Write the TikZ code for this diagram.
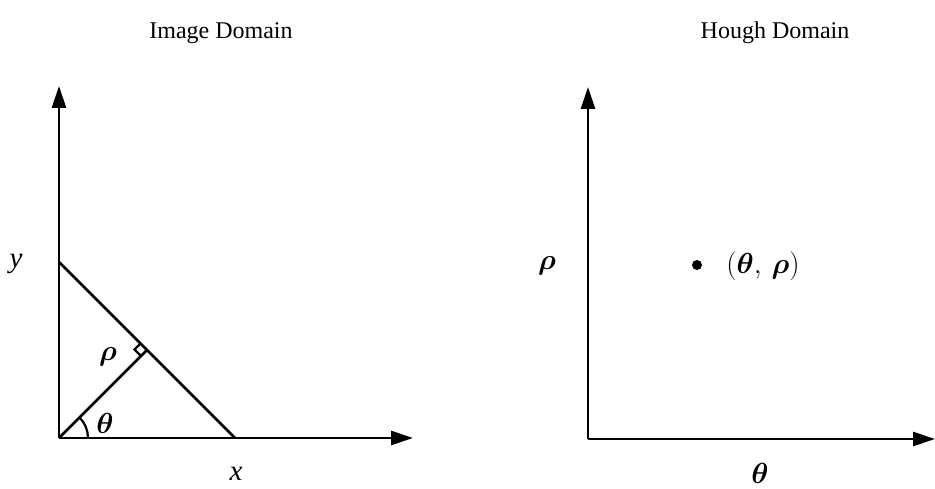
\RequirePackage{fix-cm}
\documentclass[tikz,border=0pt]{standalone}
\usepackage{bm}
\usepackage{fontspec}
\setmainfont{Liberation Serif}
\usetikzlibrary{arrows.meta,calc}
\begin{document}
\begin{tikzpicture}[x=1pt,y=-1pt,
  axis/.style={line width=2.8pt,-{Triangle[length=22pt,width=14pt]}},
  thin line/.style={line width=2.5pt},
  title/.style={font=\fontsize{24}{28}\selectfont},
  lab/.style={font=\fontsize{29}{32}\selectfont,inner sep=1pt}]
\useasboundingbox (0,0) rectangle (935,489);
% Titles
\node[title] (t1) at (221,33) {Image Domain};
\node[title] (t2) at (775,33) {Hough Domain};
% Left panel
\coordinate (O1) at (59,438);
\coordinate (Y1) at (59,86);
\coordinate (X1) at (413,438);
\coordinate (A) at (59,262);
\coordinate (B) at (235,438);
\coordinate (F) at (147,350);
\draw[axis] (O1) -- (Y1);
\draw[axis] (O1) -- (X1);
\draw[thin line] (A) -- (B);
\draw[thin line] (O1) -- (F);
% right-angle mark
\draw[line width=2.2pt] ($(F)+(-6,6)$) -- ($(F)+(-12.5,-0.5)$) -- ($(F)+(-6,-7)$);
\draw[line width=2.2pt] ($(O1)+(29,0)$) arc[start angle=0,end angle=-45,radius=29];
\node[lab] (th1) at (105,423) {$\bm{\theta}$};
\node[lab] (rh1) at (108,357) {$\bm{\rho}$};
\node[lab] (yl) at (16,264) {\textit{y}};
\node[lab] (xl) at (236,474) {\textit{x}};
% Right panel
\coordinate (O2) at (588,439);
\coordinate (Y2) at (588,87);
\coordinate (X2) at (935,439);
\draw[axis] (O2) -- (Y2);
\draw[axis] (O2) -- (X2);
\fill (697,265) circle (5);
\node[lab] (pt) at (763,266) {$(\bm{\theta},\,\bm{\rho})$};
\node[lab] (rh2) at (547,266) {$\bm{\rho}$};
\node[lab] (th2) at (760,473) {$\bm{\theta}$};
\end{tikzpicture}
\end{document}
